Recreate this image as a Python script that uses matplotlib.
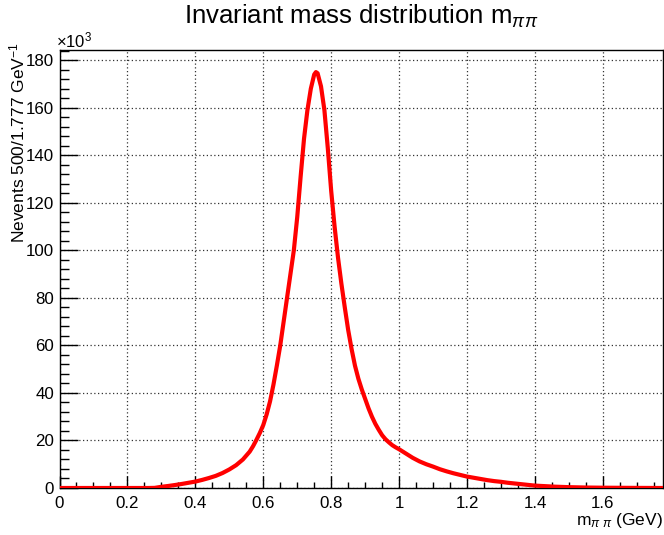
import matplotlib
matplotlib.use("Agg")
import matplotlib.pyplot as plt
from matplotlib.ticker import MultipleLocator

plt.rcParams['font.family'] = ['Liberation Sans', 'DejaVu Sans']
plt.rcParams['mathtext.fontset'] = 'custom'
plt.rcParams['mathtext.rm'] = 'Liberation Sans'
plt.rcParams['mathtext.it'] = 'Liberation Sans:italic'
plt.rcParams['mathtext.bf'] = 'Liberation Sans:bold'

# m_pipi (GeV) and events per bin (x10^3)
mass = [0.00, 0.10, 0.20, 0.26, 0.28, 0.30, 0.32, 0.34, 0.36, 0.38, 0.40, 0.42, 0.44,
        0.46, 0.48, 0.50, 0.52, 0.54, 0.56, 0.57, 0.58, 0.59, 0.60, 0.61, 0.62,
        0.63, 0.64, 0.65, 0.66, 0.67, 0.68, 0.69, 0.70, 0.71, 0.72, 0.73, 0.74,
        0.75, 0.755, 0.76, 0.77, 0.78, 0.79, 0.80, 0.81, 0.82, 0.83, 0.84, 0.85,
        0.86, 0.87, 0.88, 0.89, 0.90, 0.91, 0.92, 0.93, 0.94, 0.95, 0.96, 0.97,
        0.98, 0.99, 1.00, 1.02, 1.04, 1.06, 1.08, 1.10,
        1.12, 1.14, 1.16, 1.18, 1.20, 1.22, 1.24, 1.26, 1.28, 1.30, 1.32, 1.34,
        1.36, 1.38, 1.40, 1.42, 1.44, 1.46, 1.48, 1.50, 1.55, 1.60, 1.65, 1.70,
        1.74, 1.777]
events_k = [0.0, 0.0, 0.0, 0.0, 0.05, 0.5, 0.85, 1.25, 1.7, 2.2, 2.7, 3.4, 4.2,
            5.1, 6.3, 7.8, 9.6, 12.0, 15.3, 17.6, 20.3, 23.2, 26.5, 31.0, 36.5,
            43.5, 51.5, 60.0, 70.0, 80.0, 90.0, 100.0, 114.0, 131.0, 147.0, 159.0, 168.0,
            174.0, 175.0, 174.5, 169.0, 159.0, 143.0, 125.0, 110.0, 97.0, 86.0, 76.0, 66.5,
            58.5, 51.5, 46.0, 41.5, 37.5, 33.5, 30.0, 27.0, 24.5, 22.2, 20.5, 19.2,
            18.0, 17.1, 16.3, 14.5, 12.7, 11.2, 10.0, 9.0,
            7.9, 7.0, 6.2, 5.5, 4.8, 4.3, 3.8, 3.3, 2.9, 2.6, 2.2, 1.9,
            1.6, 1.3, 1.0, 0.85, 0.7, 0.55, 0.45, 0.35, 0.2, 0.12, 0.08, 0.04,
            0.02, 0.0]

x_ticks = [0, 0.2, 0.4, 0.6, 0.8, 1.0, 1.2, 1.4, 1.6]
x_tick_labels = ["0", "0.2", "0.4", "0.6", "0.8", "1", "1.2", "1.4", "1.6"]
y_ticks = [0, 20, 40, 60, 80, 100, 120, 140, 160, 180]

W, H = 664, 535
fig = plt.figure(figsize=(W / 100, H / 100), dpi=100)
ax = fig.add_axes([59.5 / W, (H - 488) / H, (663 - 59.5) / W, (488 - 50) / H])

ax.plot(mass, events_k, color='#ff0000', lw=3.0, solid_joinstyle='round',
        solid_capstyle='butt', zorder=3)

ax.set_xlim(0, 1.777)
ax.set_ylim(0, 184.3)
ax.set_xticks(x_ticks)
ax.set_xticklabels(x_tick_labels)
ax.set_yticks(y_ticks)
ax.xaxis.set_minor_locator(MultipleLocator(0.05))
ax.yaxis.set_minor_locator(MultipleLocator(4))

ax.tick_params(axis='both', which='both', direction='in', labelsize=12.2, width=1.0, color='black')
ax.tick_params(axis='y', which='major', length=13, pad=4)
ax.tick_params(axis='y', which='minor', length=6.5)
ax.tick_params(axis='x', which='major', length=9, pad=6)
ax.tick_params(axis='x', which='minor', length=4.5)
ax.tick_params(top=False, right=False)

ax.grid(True, which='major', color='#333333', linestyle=(0, (1, 2)), linewidth=0.9, zorder=1)
ax.set_axisbelow(True)
for s in ax.spines.values():
    s.set_linewidth(1.0)
    s.set_color('black')

fig.text(361 / W, 1 - 24 / H, r"Invariant mass distribution m$_{\pi\pi}$",
         ha='center', va='baseline', fontsize=18.5)
fig.text(56 / W, 1 - 47 / H, r"$\times$10$^{3}$", ha='left', va='baseline', fontsize=12)
fig.text(663 / W, 1 - 525 / H, r"m$_{\pi\ \pi}$ (GeV)", ha='right', va='baseline', fontsize=12.5)
fig.text(7 / W, 1 - 42 / H, r"Nevents 500/1.777 GeV$^{-1}$", ha='left', va='top',
         rotation=90, fontsize=12.5)

fig.savefig("out.png", dpi=100)
